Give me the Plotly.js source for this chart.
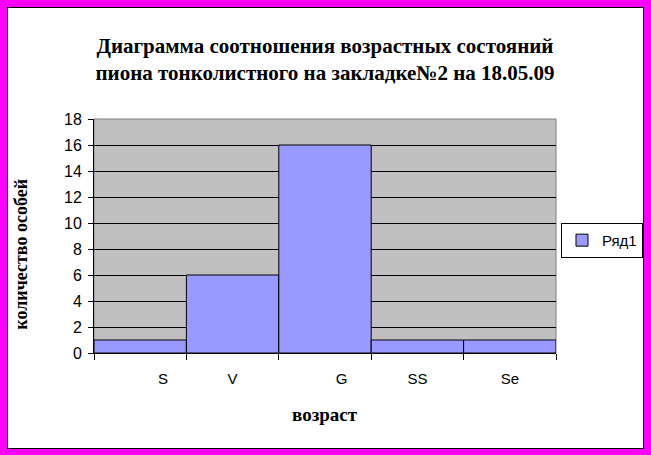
<!DOCTYPE html>
<html>
<head>
<meta charset="utf-8">
<script src="https://cdn.plot.ly/plotly-3.0.1.min.js"></script>
<style>
  html, body { margin: 0; padding: 0; background: #FF00FF; width: 651px; height: 455px; overflow: hidden; }
  #frame {
    position: absolute; left: 7px; top: 7px;
    width: 637px; height: 442px;
    box-sizing: border-box;
    border: 1px solid #000; background: #fff;
  }
  #chart { width: 635px; height: 440px; }
</style>
</head>
<body>
<div id="frame"><div id="chart"></div></div>
<script>
// Age states of the peony (возрастные состояния) and number of plants in each
const categories = ['S', 'V', 'G', 'SS', 'Se'];
const counts = [1, 6, 16, 1, 1];
const seriesName = 'Ряд1';
const yTicks = [0, 2, 4, 6, 8, 10, 12, 14, 16, 18];

// the S and G labels sit right of their column centres
const labelIndent = [11, 0, 8, 0, 0];
const tickLabels = categories.map((c, i) => '\u00a0'.repeat(labelIndent[i]) + c);

const serif = 'Liberation Serif, Times New Roman, serif';
const sans = 'Liberation Sans, Arial, sans-serif';

const trace = {
  type: 'bar',
  name: seriesName,
  x: categories,
  y: counts,
  marker: { color: '#9999FF', line: { color: '#000000', width: 1 } },
  showlegend: true,
  hoverinfo: 'x+y'
};

const layout = {
  width: 635,
  height: 440,
  margin: { l: 86, r: 87, t: 111, b: 95, autoexpand: false },
  paper_bgcolor: '#ffffff',
  plot_bgcolor: '#C0C0C0',
  bargap: 0,
  font: { family: sans, color: '#000', size: 14 },
  title: {
    text: 'Диаграмма соотношения возрастных состояний<br>пиона тонколистного на закладке№2 на 18.05.09',
    font: { family: serif, size: 21, weight: 'bold', color: '#000' },
    x: 0.5, xref: 'paper', xanchor: 'center',
    y: 0.898, yref: 'container', yanchor: 'middle'
  },
  xaxis: {
    type: 'category',
    tickmode: 'array',
    tickvals: categories,
    ticktext: tickLabels,
    tickson: 'boundaries',
    ticks: 'outside', ticklen: 6, tickcolor: '#000', tickwidth: 1,
    tickfont: { family: sans, size: 15, color: '#000' },
    ticklabelstandoff: 12,
    showline: true, linecolor: '#000', linewidth: 1,
    showgrid: false, zeroline: false,
    fixedrange: true
  },
  yaxis: {
    range: [0, 18],
    tickmode: 'array',
    tickvals: yTicks,
    ticktext: yTicks.map(String),
    ticks: 'outside', ticklen: 5, tickcolor: '#000', tickwidth: 1,
    tickfont: { family: sans, size: 16, color: '#000' },
    ticklabelstandoff: 3,
    showline: true, linecolor: '#000', linewidth: 1,
    showgrid: true, gridcolor: '#000', gridwidth: 1,
    zeroline: false,
    fixedrange: true
  },
  legend: {
    x: 1.0108, xanchor: 'left',
    y: 0.556, yanchor: 'top',
    bgcolor: '#ffffff',
    bordercolor: '#000', borderwidth: 1,
    font: { family: sans, size: 15, color: '#000' },
    itemwidth: 30
  },
  shapes: [{
    type: 'rect', xref: 'paper', yref: 'paper',
    x0: 0, x1: 1, y0: 0, y1: 1,
    line: { color: '#808080', width: 1 },
    layer: 'below'
  }],
  annotations: [
    {
      text: 'возраст',
      xref: 'paper', yref: 'paper',
      x: 0.5, y: -0.2607, xanchor: 'center', yanchor: 'middle',
      showarrow: false,
      font: { family: serif, size: 19, weight: 'bold', color: '#000' }
    },
    {
      text: 'количество особей',
      xref: 'paper', yref: 'paper',
      x: -0.158, y: 0.42, xanchor: 'center', yanchor: 'middle',
      textangle: -90,
      showarrow: false,
      font: { family: serif, size: 18, weight: 'bold', color: '#000' }
    }
  ]
};

Plotly.newPlot('chart', [trace], layout, { displayModeBar: false, staticPlot: true });
</script>
</body>
</html>
